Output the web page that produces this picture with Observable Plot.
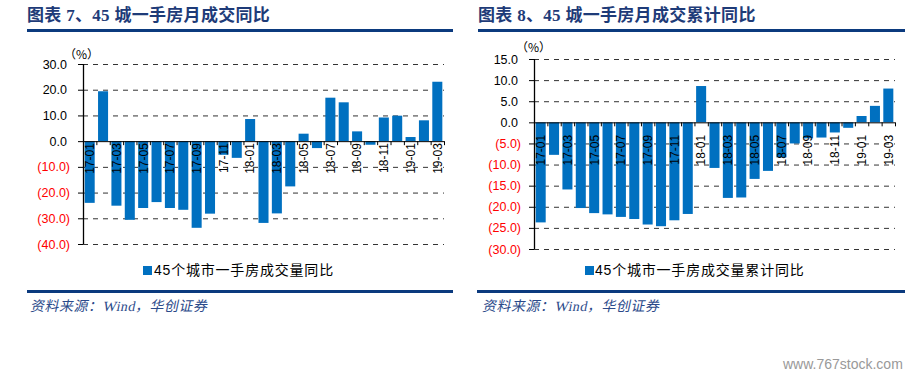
<!DOCTYPE html>
<html>
<head>
<meta charset="utf-8">
<script src="https://cdn.jsdelivr.net/npm/d3@7"></script>
<script src="https://cdn.jsdelivr.net/npm/@observablehq/plot@0.6"></script>
<style>
  body { margin: 0; background: #fff; }
  #root { position: relative; width: 921px; height: 377px; overflow: hidden; font-family: "Liberation Sans", Arial, sans-serif; }
  .abs { position: absolute; white-space: nowrap; }
  .title { font-family: "Liberation Serif", "Noto Sans CJK SC", serif; font-weight: bold; font-size: 17px; line-height: 20px; letter-spacing: 0.3px; color: #1e3b78; }
  .rule { background: #0b3a7e; height: 2.5px; }
  .unit { font-family: "Noto Sans CJK SC", sans-serif; font-size: 12px; line-height: 16px; color: #000; }
  .legend { font-family: "Liberation Sans", "Noto Sans CJK SC", sans-serif; font-size: 14px; line-height: 18px; letter-spacing: 0.8px; color: #000; }
  .swatch { width: 9px; height: 9px; background: #0070C0; }
  .source { font-family: "Liberation Serif", "Noto Sans CJK SC", serif; font-size: 14px; line-height: 18px; letter-spacing: 0.5px; color: #2b4a8a; transform: skewX(-12deg); transform-origin: left bottom; }
  .wm { font-family: "Liberation Sans", sans-serif; font-size: 14px; line-height: 18px; color: #999; }
</style>
</head>
<body>
<div id="root">
  <div class="abs title" style="left:27px; top:6px;">图表 7、45 城一手房月成交同比</div>
  <div class="abs rule" style="left:27px; top:29px; width:426px;"></div>
  <div class="abs title" style="left:478px; top:6px;">图表 8、45 城一手房月成交累计同比</div>
  <div class="abs rule" style="left:478px; top:29px; width:427px;"></div>

  <div id="chartL" class="abs" style="left:0px; top:0px;"></div>
  <div id="chartR" class="abs" style="left:460px; top:0px;"></div>

  <div class="abs unit" style="left:64px; top:46px;">（%）</div>
  <div class="abs unit" style="left:516px; top:39px;">（%）</div>

  <div class="abs swatch" style="left:143px; top:266px;"></div>
  <div class="abs legend" style="left:154px; top:261px;">45个城市一手房成交量同比</div>
  <div class="abs swatch" style="left:585px; top:266px;"></div>
  <div class="abs legend" style="left:595px; top:261px;">45个城市一手房成交量累计同比</div>

  <div class="abs rule" style="left:27px; top:290px; width:426px;"></div>
  <div class="abs rule" style="left:477px; top:290px; width:428px;"></div>
  <div class="abs source" style="left:29px; top:298px;">资料来源：Wind，华创证券</div>
  <div class="abs source" style="left:481px; top:298px;">资料来源：Wind，华创证券</div>
  <div class="abs wm" style="left:783px; top:355px;">www.767stock.com</div>
</div>
<script>
// ---- data ----
const months = ["17-01","17-02","17-03","17-04","17-05","17-06","17-07","17-08","17-09","17-10","17-11","17-12",
                "18-01","18-02","18-03","18-04","18-05","18-06","18-07","18-08","18-09","18-10","18-11","18-12",
                "19-01","19-02","19-03"];
const xTickLabels = ["17-01","17-03","17-05","17-07","17-09","17-11","18-01","18-03","18-05","18-07","18-09","18-11","19-01","19-03"];
const monthlyYoY = [-24.0, 19.4, -25.1, -30.6, -26.0, -23.7, -26.0, -26.7, -33.7, -28.2, -5.3, -6.5,
                    8.6, -31.8, -28.1, -17.6, 2.9, -2.7, 16.9, 15.1, 3.8, -1.4, 9.2, 9.9,
                    1.6, 8.1, 23.1];
const cumulativeYoY = [-23.7, -7.7, -15.9, -20.3, -21.5, -21.8, -22.4, -22.9, -24.2, -24.6, -23.2, -21.7,
                       8.6, -10.8, -17.9, -17.8, -13.4, -11.5, -8.3, -5.0, -3.8, -3.6, -2.4, -1.3,
                       1.5, 3.9, 8.0];
const leftTicks = [30, 20, 10, 0, -10, -20, -30, -40];
const rightTicks = [15, 10, 5, 0, -5, -10, -15, -20, -25, -30];

function makeChart({values, yDomain, yTicks, width, height, mLeft, mRight, mTop, mBottom, labelDy}) {
  const n = months.length;
  const data = months.map((m, i) => ({m, i, v: values[i]}));
  const plotW = width - mLeft - mRight;
  const pxPerUnit = (height - mTop - mBottom) / (yDomain[1] - yDomain[0]);
  const fmt = d => d < 0 ? `(${(-d).toFixed(1)})` : d.toFixed(1);
  const tickLen = 4 / pxPerUnit;
  const boundaries = d3.range(0, n + 1);
  const pad = 0.125;
  return Plot.plot({
    width, height,
    marginLeft: mLeft, marginRight: mRight, marginTop: mTop, marginBottom: mBottom,
    x: {type: "linear", domain: [0, n], axis: null},
    y: {domain: yDomain, axis: null},
    style: {fontFamily: "Liberation Sans, Arial, sans-serif", background: "transparent", overflow: "visible"},
    marks: [
      Plot.ruleY(yTicks.filter(d => d !== 0), {y: d => d, stroke: "#333", strokeWidth: 1, strokeDasharray: "5,5"}),
      Plot.ruleY(yTicks, {y: d => d, insetLeft: -5, insetRight: plotW, stroke: "#000"}),
      Plot.rect(data, {x1: d => d.i + pad, x2: d => d.i + 1 - pad, y1: 0, y2: "v", fill: "#0070C0"}),
      Plot.ruleY([0], {y: d => d, stroke: "#000", strokeWidth: 1}),
      Plot.ruleX(boundaries, {x: d => d, y1: 0, y2: -tickLen, stroke: "#000"}),
      Plot.ruleX([0], {x: d => d, y1: yDomain[0], y2: yDomain[1], stroke: "#000", strokeWidth: 1.3}),
      Plot.text(xTickLabels, {x: d => months.indexOf(d) + 0.5, y: 0, text: d => d, rotate: -90, textAnchor: "end", dy: labelDy, fontSize: 12, fill: "#000"}),
      Plot.text(yTicks.filter(d => d >= 0), {y: d => d, frameAnchor: "left", dx: -16.5, textAnchor: "end", text: fmt, fontSize: 12.5, fill: "#000"}),
      Plot.text(yTicks.filter(d => d < 0), {y: d => d, frameAnchor: "left", dx: -13.5, textAnchor: "end", text: fmt, fontSize: 12.5, fill: "#FF0000"})
    ]
  });
}

document.getElementById("chartL").append(makeChart({
  values: monthlyYoY, yDomain: [-40, 30], yTicks: leftTicks,
  width: 460, height: 260, mLeft: 83, mRight: 16, mTop: 64, mBottom: 16, labelDy: 1.5
}));
document.getElementById("chartR").append(makeChart({
  values: cumulativeYoY, yDomain: [-30, 15], yTicks: rightTicks,
  width: 460, height: 260, mLeft: 74, mRight: 25, mTop: 59, mBottom: 11, labelDy: 12
}));
</script>
</body>
</html>
